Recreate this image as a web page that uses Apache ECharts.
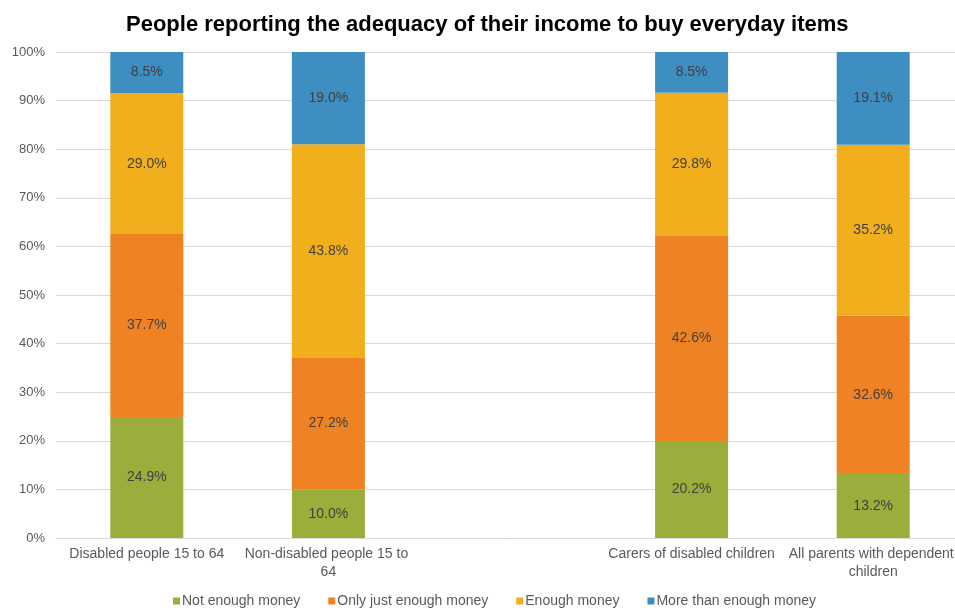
<!DOCTYPE html>
<html>
<head>
<meta charset="utf-8">
<script src="https://cdn.jsdelivr.net/npm/echarts@6/dist/echarts.min.js"></script>
<style>
  html, body { margin: 0; padding: 0; background: #fff; }
  #chart { width: 955px; height: 608px; }
</style>
</head>
<body>
<div id="chart"></div>
<script>
// Groups shown on the x axis (the empty entry leaves a gap between the two pairs)
const categories = [
  'Disabled people 15 to 64',
  'Non-disabled people 15 to 64',
  '',
  'Carers of disabled children',
  'All parents with dependent children'
];

// Reported shares (%) for each income-adequacy answer
const notEnough      = [24.9, 10.0, null, 20.2, 13.2];
const onlyJustEnough = [37.7, 27.2, null, 42.6, 32.6];
const enough         = [29.0, 43.8, null, 29.8, 35.2];
const moreThanEnough = [8.5, 19.0, null, 8.5, 19.1];

const seriesNames = ['Not enough money', 'Only just enough money', 'Enough money', 'More than enough money'];
const seriesValues = [notEnough, onlyJustEnough, enough, moreThanEnough];
const colors = ['#9bae3b', '#ef8223', '#f2af1d', '#3e8ec1'];

const yTicks = [0, 10, 20, 30, 40, 50, 60, 70, 80, 90, 100];

// 100% stacking: each column is scaled to its own total; labels keep the reported figure
const totals = categories.map((_, i) =>
  seriesValues.reduce((s, arr) => s + (arr[i] == null ? 0 : arr[i]), 0));

const FONT = 'Liberation Sans, Arial, sans-serif';

const chart = echarts.init(document.getElementById('chart'), null, { renderer: 'canvas' });

chart.setOption({
  animation: false,
  backgroundColor: '#ffffff',
  title: {
    text: 'People reporting the adequacy of their income to buy everyday items',
    left: 121,
    top: 9,
    textStyle: {
      fontFamily: FONT,
      fontSize: 22,
      fontWeight: 'bold',
      color: '#000000'
    }
  },
  legend: {
    bottom: -5,
    left: 168,
    itemWidth: 7,
    itemHeight: 7,
    itemGap: 28,
    icon: 'rect',
    textStyle: {
      fontFamily: FONT,
      fontSize: 14,
      color: '#595959',
      padding: [0, 0, 0, -3]
    },
    data: seriesNames
  },
  grid: {
    left: 56,
    top: 52,
    width: 908,
    height: 486,
    outerBoundsMode: 'none',
    containLabel: false
  },
  xAxis: {
    type: 'category',
    data: categories,
    axisLine: { lineStyle: { color: '#d9d9d9' } },
    axisTick: { show: false },
    axisLabel: {
      interval: 0,
      fontFamily: FONT,
      fontSize: 14,
      color: '#595959',
      margin: 7,
      width: 176,
      overflow: 'break',
      lineHeight: 18
    }
  },
  yAxis: {
    type: 'value',
    min: 0,
    max: 100,
    interval: 10,
    axisLine: { show: false },
    axisTick: { show: false },
    splitLine: { lineStyle: { color: '#d9d9d9', width: 1 } },
    axisLabel: {
      formatter: v => (yTicks.includes(v) ? v + '%' : ''),
      fontFamily: FONT,
      fontSize: 13,
      color: '#595959',
      margin: 11
    }
  },
  series: seriesValues.map((arr, k) => ({
    name: seriesNames[k],
    type: 'bar',
    stack: 'share',
    barWidth: 73,
    itemStyle: { color: colors[k] },
    label: {
      show: true,
      position: 'inside',
      fontFamily: FONT,
      fontSize: 14,
      color: '#404040',
      formatter: p => arr[p.dataIndex].toFixed(1) + '%'
    },
    data: arr.map((v, i) => (v == null ? null : v / totals[i] * 100))
  }))
});
</script>
</body>
</html>
